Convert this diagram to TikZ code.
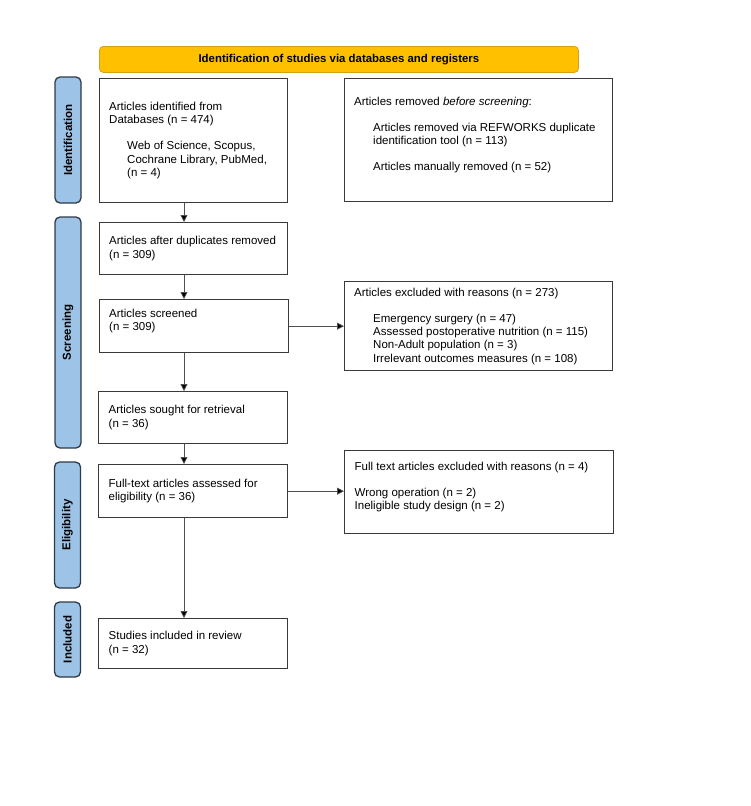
\documentclass[tikz,border=0pt]{standalone}
\usepackage{fontspec}
\setmainfont{Liberation Sans}
\usetikzlibrary{arrows.meta}
\definecolor{hdrfill}{HTML}{FFC000}
\definecolor{hdrdraw}{HTML}{D4A017}
\definecolor{barfill}{HTML}{9DC3E6}
\definecolor{bardraw}{HTML}{2E3A46}
\definecolor{boxdraw}{HTML}{3A3A3A}
\definecolor{arrline}{HTML}{505050}
\newcommand\bodyfs{\fontsize{11.5}{13.3}\selectfont}
\newcommand\ind{\hspace*{19pt}}
\begin{document}
\begin{tikzpicture}[x=1pt,y=-1pt,
  box/.style={draw=boxdraw, line width=1.3pt, fill=white, anchor=north west, inner sep=0pt},
  txt/.style={anchor=west, align=left, inner sep=0pt, font=\bodyfs},
  bar/.style={draw=bardraw, fill=barfill, line width=1.3pt, rounded corners=5pt,
    rotate=90, minimum height=26pt, inner sep=0pt,
    font=\fontsize{11.5}{13}\selectfont\bfseries},
  hdr/.style={draw=hdrdraw, fill=hdrfill, line width=0.8pt, rounded corners=4pt,
    anchor=north west, inner sep=0pt, font=\fontsize{11.4}{13}\selectfont\bfseries},
  arr/.style={draw=arrline, line width=0.8pt, -{Triangle[length=7pt,width=7pt,fill=black]}}
]
\useasboundingbox (0,0) rectangle (750,806);

% header
\node[hdr, minimum width=479pt, minimum height=26pt] (hd) at (99,46)
  {Identification of studies via databases and registers};

% side bars
\node[bar, minimum width=126pt] (bid) at (68,140) {Identification};
\node[bar, minimum width=231pt] (bsc) at (68,332.5) {Screening};
\node[bar, minimum width=126pt] (bel) at (67.5,525) {Eligibility};
\node[bar, minimum width=75pt] (bin) at (67.5,639.5) {Included};

% left boxes
\node[box, minimum width=188.5pt, minimum height=124pt] (b1) at (98.5,78) {};
\node[box, minimum width=188.5pt, minimum height=52pt] (b2) at (98.5,222) {};
\node[box, minimum width=189pt, minimum height=53pt] (sc) at (98.5,299) {};
\node[box, minimum width=189pt, minimum height=52pt] (so) at (98,391) {};
\node[box, minimum width=189pt, minimum height=53pt] (ft) at (98,464) {};
\node[box, minimum width=189pt, minimum height=50pt] (inc) at (98,618) {};

% right boxes
\node[box, minimum width=268pt, minimum height=123pt] (rm) at (344,78) {};
\node[box, minimum width=268pt, minimum height=89pt] (ex) at (344,281) {};
\node[box, minimum width=269pt, minimum height=83pt] (fx) at (344,450) {};

% texts
\node[txt] (t1) at ([xshift=10.5pt]b1.west)
  {Articles identified from\\ Databases (n = 474)\\[12.7pt]
   \hspace*{18pt}Web of Science, Scopus,\\
   \hspace*{18pt}Cochrane Library, PubMed,\\
   \hspace*{18pt}(n = 4)};
\node[txt] (t2) at ([xshift=10.5pt]b2.west) {Articles after duplicates removed\\ (n = 309)};
\node[txt] (tsc) at ([xshift=10.5pt]sc.west) {Articles screened\\ (n = 309)\\ \mbox{}};
\node[txt] (tso) at ([xshift=10.5pt]so.west) {Articles sought for retrieval\\ (n = 36)};
\node[txt] (tft) at ([xshift=10.5pt]ft.west) {Full-text articles assessed for\\ eligibility (n = 36)};
\node[txt] (tinc) at ([xshift=10.5pt]inc.west) {Studies included in review\\ (n = 32)};
\node[txt] (trm) at ([xshift=10pt]rm.west)
  {Articles removed \textit{before screening}:\\[12.7pt]
   \ind Articles removed via REFWORKS duplicate\\
   \ind identification tool (n = 113)\\[12.7pt]
   \ind Articles manually removed (n = 52)\\ \mbox{}};
\node[txt] (tex) at ([xshift=10pt]ex.west)
  {Articles excluded with reasons (n = 273)\\[12.7pt]
   \ind Emergency surgery (n = 47)\\
   \ind Assessed postoperative nutrition (n = 115)\\
   \ind Non-Adult population (n = 3)\\
   \ind Irrelevant outcomes measures (n = 108)};
\node[txt] (tfx) at ([xshift=10.5pt]fx.west)
  {Full text articles excluded with reasons (n = 4)\\[12.7pt]
   Wrong operation (n = 2)\\
   Ineligible study design (n = 2)\\ \mbox{}};

% connectors
\coordinate (ax) at (184,0);
\draw[arr] (b1.south -| ax) -- (b2.north -| ax);
\draw[arr] (b2.south -| ax) -- (sc.north -| ax);
\draw[arr] (sc.south -| ax) -- (so.north -| ax);
\draw[arr] (so.south -| ax) -- (ft.north -| ax);
\draw[arr] (ft.south -| ax) -- (inc.north -| ax);
\draw[arr] (sc.east) -- (sc.east -| ex.west);
\draw[arr] (ft.east) -- (ft.east -| fx.west);
\end{tikzpicture}
\end{document}
